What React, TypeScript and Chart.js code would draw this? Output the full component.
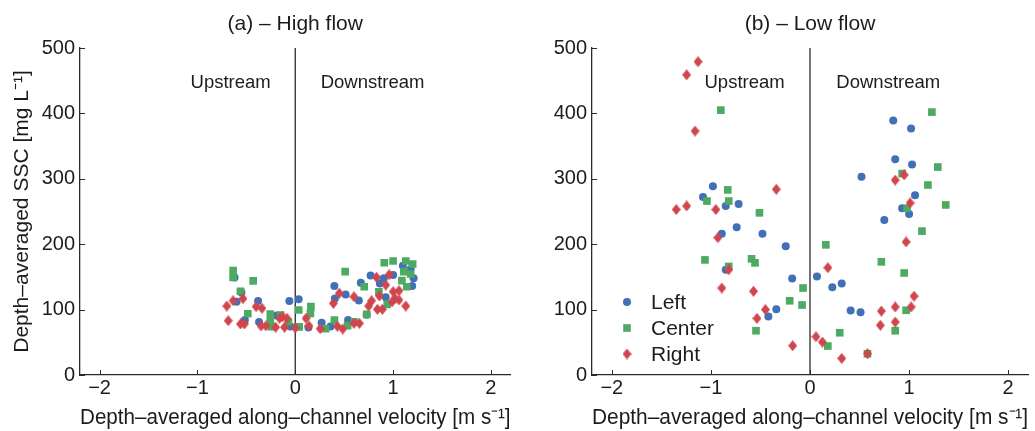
import React, { useEffect, useRef } from 'react';
import { Chart, registerables } from 'chart.js';

Chart.register(...registerables);

// Axis ticks and limits shared by both panels
const X_TICKS = [-2, -1, 0, 1, 2];
const Y_TICKS = [0, 100, 200, 300, 400, 500];
const X_MIN = -2.2;
const X_MAX = 2.2;
const Y_MIN = 0;
const Y_MAX = 500;

const SERIES_NAMES = ['Left', 'Center', 'Right'];
const PANEL_TITLES = ['(a) \u2013 High flow', '(b) \u2013 Low flow'];
const X_TITLE = 'Depth\u2013averaged along\u2013channel velocity [m s\u207B\u00B9]';
const Y_TITLE = 'Depth\u2013averaged SSC [mg L\u207B\u00B9]';
const SIDE_LABELS = ['Upstream', 'Downstream'];

// (a) High flow: [velocity m/s, SSC mg/L]
const highLeft: [number, number][] = [
  [-0.62, 149], [-0.55, 126], [-0.6, 112], [-0.38, 113], [-0.06, 113], [0.035, 116],
  [-0.515, 84], [-0.37, 81], [-0.19, 91], [-0.05, 74], [0.135, 72.5], [0.27, 80],
  [0.36, 74], [0.54, 84], [0.73, 92], [0.4, 136], [0.405, 117], [0.515, 123],
  [0.65, 114], [0.67, 141], [0.77, 152], [0.865, 140], [0.905, 148], [1.0, 153],
  [0.925, 119], [1.1, 167], [1.18, 162], [1.21, 148], [1.195, 136],
];
const highCenter: [number, number][] = [
  [-0.635, 159.5], [-0.635, 149], [-0.43, 144], [-0.56, 128], [-0.485, 93.7], [-0.255, 93],
  [-0.15, 91.7], [-0.255, 81.5], [-0.24, 74], [-0.07, 81.5], [0.035, 99.4], [0.04, 73.5],
  [0.16, 104.5], [0.155, 94.3], [0.31, 70.8], [0.4, 84], [0.535, 75.4], [0.6, 81.5],
  [0.73, 92.8], [0.51, 158], [0.705, 135], [0.91, 171.7], [1.0, 174.3], [0.855, 127],
  [0.94, 108], [1.13, 174.3], [1.2, 169.7], [1.11, 158], [1.18, 154.4], [1.09, 144.2],
  [1.14, 135],
];
const highRight: [number, number][] = [
  [-0.635, 113.6], [-0.7, 105.5], [-0.535, 116.7], [-0.4, 104.5], [-0.34, 102], [-0.685, 83],
  [-0.56, 78], [-0.52, 78], [-0.35, 75], [-0.3, 75], [-0.16, 86.7], [-0.13, 89],
  [-0.085, 86.7], [-0.2, 73], [-0.11, 73], [0.0, 72], [0.11, 86.7], [0.14, 75],
  [0.255, 70.8], [0.43, 74.5], [0.485, 70.3], [0.6, 79], [0.655, 79], [0.45, 125],
  [0.39, 109.6], [0.6, 119.7], [0.78, 113.6], [0.75, 105.5], [0.83, 149.4], [0.925, 137.6],
  [0.96, 153.4], [0.86, 120.8], [0.84, 100.4], [0.89, 100.4], [0.99, 112], [1.0, 127.4],
  [1.06, 128.9], [1.02, 117], [1.06, 114.7], [1.13, 105.5],
];

// (b) Low flow: [velocity m/s, SSC mg/L]
const lowLeft: [number, number][] = [
  [-0.98, 288.5], [-1.08, 272], [-0.85, 258.5], [-0.72, 261.5], [-0.89, 216], [-0.74, 226],
  [-0.48, 216], [-0.245, 197], [-0.85, 161], [-0.18, 147.6], [0.07, 150.7], [-0.34, 100.7],
  [-0.42, 89.6], [0.84, 389], [1.02, 377], [0.86, 330], [1.03, 322], [0.52, 303],
  [1.06, 275], [0.93, 255], [1.0, 246], [0.75, 237], [0.225, 134], [0.32, 140],
  [0.41, 98.8], [0.51, 96],
];
const lowCenter: [number, number][] = [
  [-0.9, 405], [-0.83, 283], [-1.04, 266], [-0.82, 266], [-0.51, 248], [-1.06, 176],
  [-0.82, 166], [-0.59, 177.6], [-0.555, 171.5], [-0.07, 133], [-0.205, 113.5], [-0.08, 107],
  [-0.545, 67.7], [1.23, 402], [1.29, 318], [0.93, 308], [1.19, 290.5], [0.98, 255],
  [1.37, 260], [1.13, 220], [0.16, 199], [0.72, 173], [0.95, 156], [0.97, 99],
  [0.86, 67.7], [0.3, 64.6], [0.18, 44.3], [0.58, 32.5],
];
const lowRight: [number, number][] = [
  [-1.13, 479], [-1.245, 459], [-1.16, 373], [-0.34, 284], [-1.35, 253], [-1.245, 258.5],
  [-0.95, 253], [-0.93, 210], [-0.82, 161], [-0.89, 133], [-0.57, 128], [-0.45, 100],
  [-0.535, 86.5], [-0.175, 44.8], [0.95, 306], [0.86, 298], [1.01, 263], [0.97, 203.5],
  [0.18, 164], [1.05, 120.6], [0.86, 104], [1.02, 104], [0.72, 97.7], [0.86, 81],
  [0.71, 76], [0.06, 58.5], [0.125, 50.4], [0.32, 25.4], [0.58, 32.5],
];

const FONT = "'Liberation Sans', Arial, Helvetica, sans-serif";
const TEXT_COLOR = '#1c1c1c';
const AXIS_COLOR = '#2a2a2a';
const COLORS = ['#4270b6', '#4caa62', '#d0464e'];

const fmtTick = (v: number) => (v < 0 ? '\u2212' + Math.abs(v) : String(v));

function makeDiamond(color: string, w: number, h: number) {
  const c = document.createElement('canvas');
  c.width = w;
  c.height = h;
  const g = c.getContext('2d')!;
  g.fillStyle = color;
  g.beginPath();
  g.moveTo(w / 2, 0);
  g.lineTo(w, h / 2);
  g.lineTo(w / 2, h);
  g.lineTo(0, h / 2);
  g.closePath();
  g.fill();
  return c;
}

// Axis ticks drawn inward, the zero-velocity line, side labels and an in-plot legend
const decorPlugin = {
  id: 'decor',
  beforeDatasetsDraw(chart: any) {
    const { ctx, chartArea, scales } = chart;
    const zx = scales.x.getPixelForValue(0);
    ctx.save();
    ctx.strokeStyle = AXIS_COLOR;
    ctx.lineWidth = 1.3;
    ctx.beginPath();
    ctx.moveTo(zx, chartArea.top);
    ctx.lineTo(zx, chartArea.bottom);
    ctx.stroke();
    ctx.restore();
  },
  afterDraw(chart: any, _args: any, opts: any) {
    const { ctx, chartArea, scales } = chart;
    const xs = scales.x;
    const ys = scales.y;
    ctx.save();
    ctx.strokeStyle = AXIS_COLOR;
    ctx.lineWidth = 1;
    ctx.beginPath();
    X_TICKS.forEach((v) => {
      const px = Math.round(xs.getPixelForValue(v)) + 0.5;
      ctx.moveTo(px, chartArea.bottom);
      ctx.lineTo(px, chartArea.bottom - 5);
    });
    Y_TICKS.forEach((v) => {
      const py = Math.round(ys.getPixelForValue(v)) + 0.5;
      ctx.moveTo(chartArea.left, py);
      ctx.lineTo(chartArea.left + 5, py);
    });
    ctx.stroke();

    ctx.fillStyle = TEXT_COLOR;
    ctx.font = `18.5px ${FONT}`;
    ctx.textAlign = 'center';
    ctx.textBaseline = 'middle';
    ctx.fillText(SIDE_LABELS[0], xs.getPixelForValue(-0.66), ys.getPixelForValue(447));
    ctx.fillText(SIDE_LABELS[1], xs.getPixelForValue(0.79), ys.getPixelForValue(447));

    if (opts && opts.legend) {
      const mx = chartArea.left + 35;
      const tx = chartArea.left + 59;
      const rows = [chartArea.bottom - 73, chartArea.bottom - 47, chartArea.bottom - 21];
      // circle
      ctx.fillStyle = COLORS[0];
      ctx.beginPath();
      ctx.arc(mx, rows[0], 4, 0, Math.PI * 2);
      ctx.fill();
      // square
      ctx.fillStyle = COLORS[1];
      ctx.fillRect(mx - 3.8, rows[1] - 3.8, 7.6, 7.6);
      // diamond
      const d = opts.diamond as HTMLCanvasElement;
      ctx.drawImage(d, mx - d.width / 2, rows[2] - d.height / 2);
      ctx.fillStyle = TEXT_COLOR;
      ctx.font = `21px ${FONT}`;
      ctx.textAlign = 'left';
      SERIES_NAMES.forEach((n, i) => ctx.fillText(n, tx, rows[i] + 1));
    }
    ctx.restore();
  },
};

function buildConfig(
  title: string,
  series: [number, number][][],
  yWidth: number,
  rightPad: number,
  showYTitle: boolean,
  showLegend: boolean,
  diamond: HTMLCanvasElement
): any {
  const styles: any[] = ['circle', 'rect', diamond];
  const radii = [4, 5.4, 5];
  return {
    type: 'scatter',
    data: {
      datasets: series.map((pts, i) => ({
        label: SERIES_NAMES[i],
        data: pts.map(([x, y]) => ({ x, y })),
        pointStyle: styles[i],
        pointRadius: radii[i],
        pointBackgroundColor: COLORS[i],
        pointBorderWidth: 0,
        pointBorderColor: COLORS[i],
        showLine: false,
        order: 3 - i,
      })),
    },
    options: {
      responsive: false,
      animation: false,
      devicePixelRatio: 1,
      events: [],
      layout: { padding: { left: 0, right: rightPad, top: 0, bottom: 0 } },
      plugins: {
        legend: { display: false },
        tooltip: { enabled: false },
        title: {
          display: true,
          text: title,
          fullSize: false,
          color: TEXT_COLOR,
          font: { family: FONT, size: 21, weight: 'normal' },
          padding: { top: 12, bottom: 10.8 },
        },
        decor: { legend: showLegend, diamond },
      },
      scales: {
        x: {
          type: 'linear',
          min: X_MIN,
          max: X_MAX,
          afterBuildTicks: (s: any) => {
            s.ticks = X_TICKS.map((v) => ({ value: v }));
          },
          afterFit: (s: any) => {
            s.height = 56;
          },
          grid: { display: false, drawTicks: false },
          border: { display: true, color: AXIS_COLOR, width: 1.3 },
          ticks: {
            color: TEXT_COLOR,
            font: { family: FONT, size: 20 },
            padding: 1,
            maxRotation: 0,
            autoSkip: false,
            callback: (v: number) => fmtTick(v),
          },
          title: {
            display: true,
            text: X_TITLE,
            color: TEXT_COLOR,
            font: { family: FONT, size: 21.7 },
            padding: { top: 0, bottom: 0 },
          },
        },
        y: {
          type: 'linear',
          min: Y_MIN,
          max: Y_MAX,
          afterBuildTicks: (s: any) => {
            s.ticks = Y_TICKS.map((v) => ({ value: v }));
          },
          afterFit: (s: any) => {
            s.width = yWidth;
          },
          grid: { display: false, drawTicks: false },
          border: { display: true, color: AXIS_COLOR, width: 1.3 },
          ticks: {
            color: TEXT_COLOR,
            font: { family: FONT, size: 20 },
            padding: 5,
            autoSkip: false,
            callback: (v: number) => fmtTick(v),
          },
          title: {
            display: showYTitle,
            text: Y_TITLE,
            color: TEXT_COLOR,
            font: { family: FONT, size: 21 },
            padding: { top: 10, bottom: 0 },
          },
        },
      },
    },
    plugins: [decorPlugin],
  };
}

export default function App() {
  const refA = useRef<HTMLCanvasElement>(null);
  const refB = useRef<HTMLCanvasElement>(null);

  useEffect(() => {
    const diamond = makeDiamond(COLORS[2], 9, 11);
    const a = new Chart(
      refA.current!,
      buildConfig(PANEL_TITLES[0], [highLeft, highCenter, highRight], 80, 6.5, true, false, diamond)
    );
    const b = new Chart(
      refB.current!,
      buildConfig(PANEL_TITLES[1], [lowLeft, lowCenter, lowRight], 75, 7, false, true, diamond)
    );
    return () => {
      a.destroy();
      b.destroy();
    };
  }, []);

  return (
    <div
      style={{
        position: 'fixed',
        left: 0,
        top: 0,
        width: 1035,
        height: 431,
        background: '#ffffff',
        display: 'flex',
      }}
    >
      <canvas ref={refA} width={517} height={431} style={{ display: 'block', width: 517, height: 431 }} />
      <canvas ref={refB} width={518} height={431} style={{ display: 'block', width: 518, height: 431 }} />
    </div>
  );
}
